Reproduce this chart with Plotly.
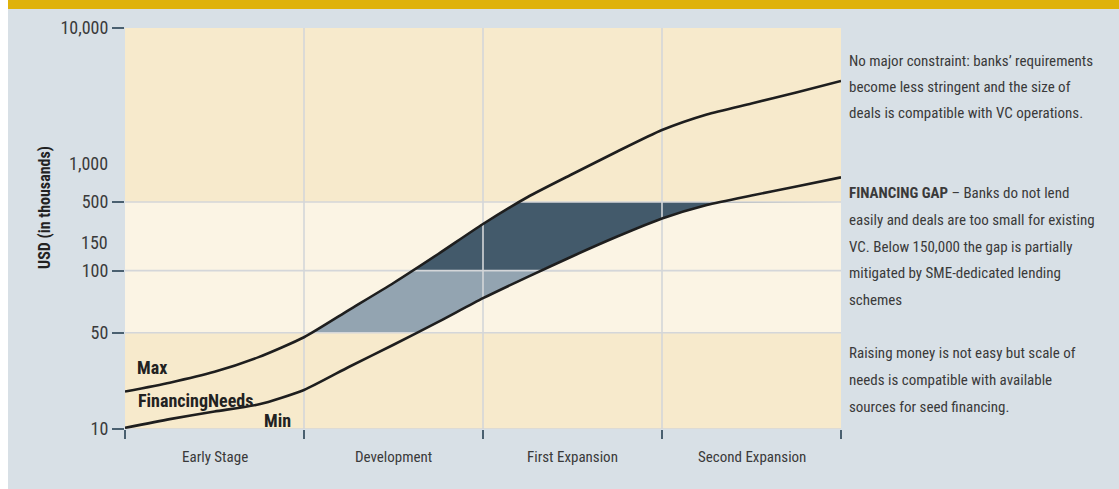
import numpy as np
import plotly.graph_objects as go

# ---------------- data ----------------
stages = ["Early Stage", "Development", "First Expansion", "Second Expansion"]
stage_x = [0, 0.25, 0.5, 0.75, 1, 1.25, 1.5, 1.75, 2, 2.25, 2.5, 2.75, 3, 3.25, 3.5, 3.75, 4]
max_needs = [18.7, 21.7, 26.0, 33.4, 46.4, 64.4, 87.1, 127.6, 262, 547, 824, 1219, 1758, 2292, 2763, 3334, 4055]
min_needs = [10.2, 11.8, 13.4, 15.1, 19.2, 28.2, 40.9, 56.4, 73.5, 93.3, 123.5, 181, 308, 458, 562, 659, 776]
tick_values = [10, 50, 100, 150, 500, 1000, 10000]
tick_labels = ["10", "50", "100", "150", "500", "1,000", "10,000"]
marked_ticks = [10, 50, 100, 500, 10000]
gap_low, gap_mid, gap_high = 50, 100, 500

notes_top = ["No major constraint: banks’ requirements",
             "become less stringent and the size of",
             "deals is compatible with VC operations."]
notes_mid = ["<b>FINANCING GAP</b> – Banks do not lend",
             "easily and deals are too small for existing",
             "VC. Below 150,000 the gap is partially",
             "mitigated by SME-dedicated lending",
             "schemes"]
notes_low = ["Raising money is not easy but scale of",
             "needs is compatible with available",
             "sources for seed financing."]

# ------------- custom (piecewise log) y scale -------------
SCALE_POS = [0.0, 0.240, 0.395, 0.464, 0.566, 0.663, 1.0]


def ypos(v):
    return np.interp(np.log10(np.asarray(v, dtype=float)), np.log10(tick_values), SCALE_POS)


FONT = "Liberation Sans Narrow, Roboto Condensed, DejaVu Sans Condensed, Arial Narrow, sans-serif"
BEIGE = "#F7EACC"
BAND = "#FBF4E4"
BG = "#D8E0E6"
GOLD = "#DFB20A"
GRID = "#D4D6D9"
TICK = "#4A6070"
TXT = "#3A3A3A"

fig = go.Figure()

# fills between curves, clipped to bands
xg = np.linspace(0, 4, 1601)
fmax = np.interp(xg, stage_x, ypos(max_needs))
fmin = np.interp(xg, stage_x, ypos(min_needs))
for lo, hi, col in [(gap_low, gap_mid, "#93A4B1"), (gap_mid, gap_high, "#435A6B")]:
    plo, phi = float(ypos(lo)), float(ypos(hi))
    up = np.clip(fmax, plo, phi)
    dn = np.clip(fmin, plo, phi)
    fig.add_trace(go.Scatter(x=np.concatenate([xg, xg[::-1]]), y=np.concatenate([up, dn[::-1]]),
                             fill="toself", fillcolor=col, line=dict(width=0), mode="lines",
                             hoverinfo="skip", showlegend=False))

# grid lines (drawn above fills)
gx, gy = [], []
for v in [10, gap_low, gap_mid, gap_high]:
    p = float(ypos(v))
    gx += [0, 4, None]
    gy += [p, p, None]
for k in range(1, len(stages)):
    gx += [k, k, None]
    gy += [0, 1, None]
fig.add_trace(go.Scatter(x=gx, y=gy, mode="lines", line=dict(color=GRID, width=1.6),
                         hoverinfo="skip", showlegend=False))

# curves
for vals, name in [(max_needs, "Max"), (min_needs, "Min")]:
    fig.add_trace(go.Scatter(x=stage_x, y=ypos(vals), mode="lines", name=name,
                             line=dict(color="#1E1E1E", width=2.6, shape="spline", smoothing=0.6),
                             showlegend=False))

# light band background
fig.add_shape(type="rect", xref="x", yref="y", x0=0, x1=4, y0=float(ypos(gap_low)), y1=float(ypos(gap_high)),
              fillcolor=BAND, line=dict(width=0), layer="below")

W, H = 1119, 489
L, R, T, B = 125, 278, 28, 60
pw, ph = W - L - R, H - T - B


def px(p):
    return (p - L) / pw


def py(q):
    return (H - B - q) / ph


# decoration: gold bar and white left strip
fig.add_shape(type="rect", xref="paper", yref="paper", x0=px(8), x1=px(W + 2), y0=py(9), y1=py(-2),
              fillcolor=GOLD, line=dict(width=0), layer="below")
fig.add_shape(type="rect", xref="paper", yref="paper", x0=px(-2), x1=px(8), y0=py(H + 2), y1=py(-2),
              fillcolor="white", line=dict(width=0), layer="below")

ann = []
# unmarked tick labels
for v, t in zip(tick_values, tick_labels):
    if v not in marked_ticks:
        ann.append(dict(x=px(110), xref="paper", y=float(ypos(v)), yref="y", text=t, showarrow=False,
                        xanchor="right", yanchor="middle", font=dict(family=FONT, size=18, color=TXT)))
# category labels
for i, s in enumerate(stages):
    ann.append(dict(x=i + 0.5, xref="x", y=py(457), yref="paper", text=s, showarrow=False,
                    xanchor="center", yanchor="middle", font=dict(family=FONT, size=15, color=TXT)))
# axis title
ann.append(dict(x=px(44), xref="paper", y=py(208), yref="paper", text="<b>USD (in thousands)</b>",
                textangle=-90, showarrow=False, xanchor="center", yanchor="middle",
                font=dict(family=FONT, size=16, color="#222")))
# curve labels
for txt, xx, yy in [("Max", 135, 367), ("FinancingNeeds", 136, 400), ("Min", 262, 420)]:
    ann.append(dict(x=px(xx), xref="paper", y=py(yy), yref="paper", text="<b>%s</b>" % txt, showarrow=False,
                    xanchor="left", yanchor="middle", font=dict(family=FONT, size=18, color="#222")))
# right notes
for lines, ys in [(notes_top, [61, 87, 113]), (notes_mid, [193, 220, 247, 273, 300]), (notes_low, [353, 380, 407])]:
    for t, yy in zip(lines, ys):
        ann.append(dict(x=px(847), xref="paper", y=py(yy), yref="paper", text=t, showarrow=False,
                        xanchor="left", yanchor="middle", font=dict(family=FONT, size=15, color=TXT)))

fig.update_layout(
    width=W, height=H, margin=dict(l=L, r=R, t=T, b=B, pad=0),
    paper_bgcolor=BG, plot_bgcolor=BEIGE,
    annotations=ann, showlegend=False,
    xaxis=dict(range=[0, 4], showgrid=False, zeroline=False, showline=False,
               tickmode="array", tickvals=list(range(len(stages) + 1)), ticktext=[""] * (len(stages) + 1),
               ticks="outside", ticklen=9, tickwidth=2, tickcolor=TICK, fixedrange=True),
    yaxis=dict(range=[0, 1], showgrid=False, zeroline=False, showline=False,
               tickmode="array", tickvals=[float(ypos(v)) for v in marked_ticks],
               ticktext=[tick_labels[tick_values.index(v)] for v in marked_ticks],
               ticks="outside", ticklen=12, tickwidth=2, tickcolor=TICK,
               tickfont=dict(family=FONT, size=18, color=TXT), fixedrange=True),
)

fig.write_html("out.html")
